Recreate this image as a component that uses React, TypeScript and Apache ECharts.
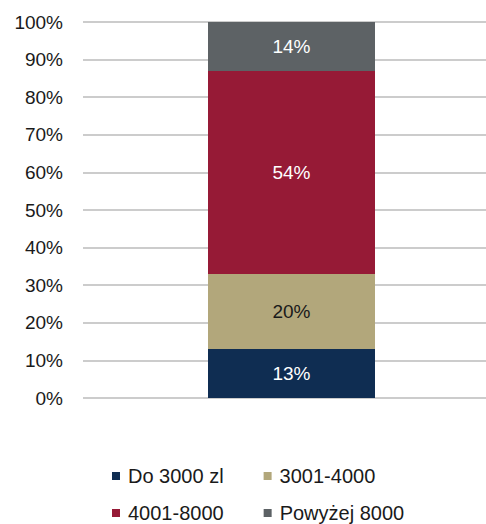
import React, { useEffect, useRef } from "react";
import * as echarts from "echarts";

const categories = ["Wynagrodzenie"];
const seriesNames = ["Do 3000 zl", "3001-4000", "4001-8000", "Powyżej 8000"];
const seriesValues = [[13], [20], [54], [14]];
const seriesColors = ["#0f2d52", "#b2a77b", "#961a36", "#5d6265"];
const labelColors = ["#ffffff", "#1a1a1a", "#ffffff", "#ffffff"];
const yTicks = [0, 10, 20, 30, 40, 50, 60, 70, 80, 90, 100];

const FONT = "'Liberation Sans', Arial, sans-serif";

export default function App() {
  const ref = useRef<HTMLDivElement>(null);
  useEffect(() => {
    if (!ref.current) return;
    const chart = echarts.init(ref.current, null, { renderer: "svg" });
    const legendText = {
      fontSize: 20,
      fontFamily: FONT,
      color: "#1a1a1a",
      lineHeight: 20,
      padding: [0, 0, 0, 3],
    };
    const legendBase = {
      orient: "horizontal" as const,
      itemWidth: 8,
      itemHeight: 8,
      itemGap: 40,
      padding: 0,
      icon: "rect",
      textStyle: legendText,
      selectedMode: false,
    };
    chart.setOption({
      animation: false,
      textStyle: { fontFamily: FONT },
      grid: { left: 83, right: 0, top: 22, bottom: 126 },
      legend: [
        { ...legendBase, left: 112, top: 466, data: [seriesNames[0], seriesNames[1]] },
        { ...legendBase, left: 112, top: 503, data: [seriesNames[2], seriesNames[3]] },
      ],
      xAxis: {
        type: "category",
        data: categories,
        axisLine: { show: false },
        axisTick: { show: false },
        axisLabel: { show: false },
      },
      yAxis: {
        type: "value",
        min: yTicks[0],
        max: yTicks[yTicks.length - 1],
        interval: 10,
        axisLine: { show: false },
        axisTick: { show: false },
        axisLabel: {
          formatter: "{value}%",
          fontSize: 19,
          fontFamily: FONT,
          color: "#1a1a1a",
          margin: 20,
        },
        splitLine: { lineStyle: { color: "#cccccc", width: 2 } },
      },
      series: seriesNames.map((name, i) => ({
        name,
        type: "bar",
        stack: "total",
        barWidth: 167,
        clip: true,
        data: seriesValues[i],
        itemStyle: { color: seriesColors[i] },
        label: {
          show: true,
          position: "inside",
          formatter: "{c}%",
          fontSize: 19,
          fontFamily: FONT,
          color: labelColors[i],
        },
      })),
    });
    return () => chart.dispose();
  }, []);
  return (
    <div style={{ position: "fixed", left: 0, top: 0, width: 486, height: 524, overflow: "hidden", background: "#fff" }}>
      <div ref={ref} style={{ width: 500, height: 524 }} />
    </div>
  );
}
